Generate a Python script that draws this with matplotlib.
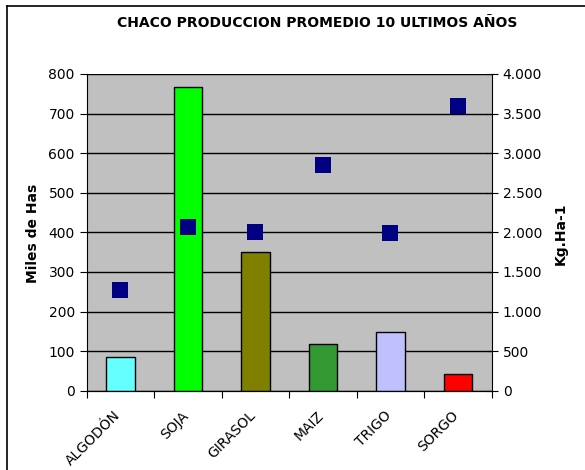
import numpy as np
import matplotlib
matplotlib.use("Agg")
import matplotlib.pyplot as plt
from matplotlib.lines import Line2D
from matplotlib.ticker import FuncFormatter

plt.rcParams['font.family'] = ['DejaVu Sans']

cultivos = ["ALGODÓN", "SOJA", "GIRASOL", "MAIZ", "TRIGO", "SORGO"]
miles_has = [84, 768, 350, 117, 149, 41]
rinde = [1270, 2065, 2000, 2850, 1995, 3600]
colores = ["#66FFFF", "#00FF00", "#808000", "#339933", "#C0C0FF", "#FF0000"]

fig = plt.figure(figsize=(5.85, 4.70), dpi=100)
ax = fig.add_axes([0.148, 0.1687, 0.6925, 0.6739])
ax.set_facecolor("#C0C0C0")

x = np.arange(len(cultivos))
ax.bar(x, miles_has, width=0.42, color=colores, edgecolor="black", linewidth=1, zorder=3)
ax.set_xlim(-0.5, 5.5)
ax.set_ylim(0, 800)
ax.set_yticks(np.arange(0, 801, 100))
ax.yaxis.grid(True, color="black", linewidth=1, zorder=1)
ax.set_axisbelow(True)

# marcas entre categorias, etiquetas giradas aparte
ax.set_xticks(np.arange(-0.5, 5.6, 1))
ax.set_xticklabels([])
ax.tick_params(axis='x', direction='out', length=5, color='black')
for i, lab in enumerate(cultivos):
    ax.text(i - 0.1, -45, lab, rotation=45, ha='right', va='top',
            rotation_mode='anchor', fontsize=10)
ax.tick_params(axis='y', direction='out', length=5, labelsize=10)

ax.spines["top"].set_visible(False)
ax.spines["right"].set_visible(False)

ax2 = ax.twinx()
ax2.plot(x, rinde, linestyle='none', marker='s', markersize=12, markeredgewidth=0,
         color="#000080", zorder=4)
ax2.set_ylim(0, 4000)
ax2.set_yticks(np.arange(0, 4001, 500))
ax2.yaxis.set_major_formatter(FuncFormatter(lambda v, p: f"{int(v):,}".replace(",", ".")))
ax2.tick_params(axis='y', direction='inout', length=9, labelsize=10)
ax2.spines["top"].set_visible(False)
ax2.spines["left"].set_visible(False)

fig.text(33 / 585, 1 - 233 / 470, "Miles de Has", rotation=90, ha='center', va='center',
         fontsize=10, fontweight='bold')
fig.text(561 / 585, 1 - 234 / 470, "Kg.Ha-1", rotation=90, ha='center', va='center',
         fontsize=10, fontweight='bold')

fig.text(317 / 585, 0.952, "CHACO PRODUCCION PROMEDIO 10 ULTIMOS AÑOS",
         ha='center', va='center', fontsize=10, fontweight='bold')

# marco del grafico
fig.add_artist(Line2D([7 / 585, 1.0], [1 - 6 / 470, 1 - 6 / 470], color="black", linewidth=1.2))
fig.add_artist(Line2D([7 / 585, 7 / 585], [0.0, 1 - 6 / 470], color="black", linewidth=1.2))

fig.savefig("out.png", dpi=100)
